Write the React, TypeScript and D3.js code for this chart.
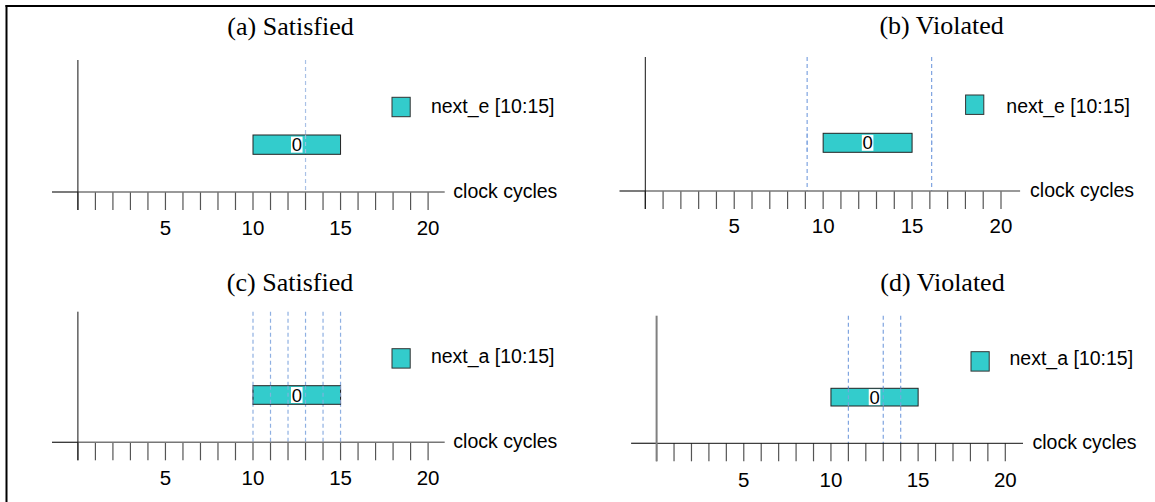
import React from "react";
import * as d3 from "d3";

const titles = ["(a) Satisfied", "(b) Violated", "(c) Satisfied", "(d) Violated"];
const legendLabels = ["next_e [10:15]", "next_e [10:15]", "next_a [10:15]", "next_a [10:15]"];
const barStarts = [10, 10, 10, 10];
const barEnds = [15, 15, 15, 15];
const barLabels = ["0", "0", "0", "0"];
const markers = [[13], [9.1, 16.1], [10, 11, 12, 13, 14, 15], [11, 13, 14]];
const tickValues = d3.range(0, 21);
const tickLabels = [5, 10, 15, 20];
const xDomain = [0, 20];

const layouts = [
  { x0: 77.9, x20: 428.1, axisY: 192, yTop: 60, axisStart: 52, axisEnd: 444.7, barY0: 135, barY1: 154.3, legX: 392, legY: 97.3, legTextX: 430.9, legBase: 113.3, titleX: 290.5, titleBase: 35, clockX: 453.3, clockBase: 198.3, tickBase: 235, yColor: "#111", yW: 1, xColor: "#777", xW: 1.6, dash: "#a9c1e6" },
  { x0: 645.3, x20: 1001, axisY: 191, yTop: 57, axisStart: 619.5, axisEnd: 1020.1, barY0: 133.3, barY1: 152.3, legX: 965.6, legY: 95, legTextX: 1006.3, legBase: 112.7, titleX: 941.6, titleBase: 34, clockX: 1030.1, clockBase: 196.7, tickBase: 233.3, yColor: "#111", yW: 1, xColor: "#777", xW: 1.6, dash: "#7fa4e0" },
  { x0: 77.9, x20: 428.1, axisY: 442.3, yTop: 311.7, axisStart: 52, axisEnd: 444.7, barY0: 385.7, barY1: 404.3, legX: 392, legY: 348.7, legTextX: 430.9, legBase: 363.3, titleX: 290, titleBase: 290.7, clockX: 453.3, clockBase: 448.3, tickBase: 485, yColor: "#111", yW: 1, xColor: "#777", xW: 1.6, dash: "#8fb0e2" },
  { x0: 656.6, x20: 1005.3, axisY: 443.3, yTop: 315.7, axisStart: 631.1, axisEnd: 1023, barY0: 388.3, barY1: 406, legX: 971, legY: 351.7, legTextX: 1009.5, legBase: 365, titleX: 942.5, titleBase: 291, clockX: 1032.5, clockBase: 449.3, tickBase: 486.7, yColor: "#808080", yW: 2, xColor: "#111", xW: 1, dash: "#7fa4e0" },
];

const TICK_LEN = 18;
const SANS = "Arial, 'Liberation Sans', sans-serif";
const SERIF = "'Times New Roman', 'Liberation Serif', serif";

function Panel({ i }: { i: number }) {
  const L = layouts[i];
  const x = d3.scaleLinear().domain(xDomain).range([L.x0, L.x20]);
  const barMid = (L.barY0 + L.barY1) / 2;
  const labelX = x((barStarts[i] + barEnds[i]) / 2);
  return (
    <g>
      <text x={L.titleX} y={L.titleBase} textAnchor="middle" fontFamily={SERIF} fontSize={26} fill="#000">
        {titles[i]}
      </text>
      {markers[i].map((m, k) => (
        <line key={"m" + k} x1={x(m)} x2={x(m)} y1={L.yTop} y2={L.axisY} stroke={L.dash} strokeWidth={1.2} strokeDasharray="4,3" />
      ))}
      <rect
        x={x(barStarts[i])}
        y={L.barY0}
        width={x(barEnds[i]) - x(barStarts[i])}
        height={L.barY1 - L.barY0}
        fill="#33CCCC"
        stroke="#222"
        strokeWidth={1}
      />
      {markers[i].map((m, k) => (
        <line key={"mo" + k} x1={x(m)} x2={x(m)} y1={L.barY0} y2={L.barY1} stroke={L.dash} strokeWidth={1.2} strokeDasharray="4,3" opacity={0.8} />
      ))}
      <rect x={labelX - 5.8} y={barMid - 8} width={11.6} height={16} fill="#fff" />
      <text x={labelX} y={barMid} dy="0.36em" textAnchor="middle" fontFamily={SANS} fontSize={18.5} fill="#000">
        {barLabels[i]}
      </text>
      {tickValues.map((t) => (
        <line key={"t" + t} x1={x(t)} x2={x(t)} y1={L.axisY} y2={L.axisY + TICK_LEN} stroke="#555" strokeWidth={1.2} />
      ))}
      <line x1={L.axisStart} x2={L.x0} y1={L.axisY} y2={L.axisY} stroke="#333" strokeWidth={1.3} />
      <line x1={L.x0} x2={L.axisEnd} y1={L.axisY} y2={L.axisY} stroke={L.xColor} strokeWidth={L.xW} />
      <line x1={L.x0} x2={L.x0} y1={L.yTop} y2={L.axisY + TICK_LEN} stroke={L.yColor} strokeWidth={L.yW} />
      {tickLabels.map((t) => (
        <text key={"l" + t} x={x(t)} y={L.tickBase} textAnchor="middle" fontFamily={SANS} fontSize={20.5} fill="#000">
          {t}
        </text>
      ))}
      <text x={L.clockX} y={L.clockBase} fontFamily={SANS} fontSize={19.5} fill="#000">
        clock cycles
      </text>
      <rect x={L.legX} y={L.legY} width={18.2} height={19.4} fill="#33CCCC" stroke="#333" strokeWidth={1} />
      <text x={L.legTextX} y={L.legBase} fontFamily={SANS} fontSize={19.5} fill="#000">
        {legendLabels[i]}
      </text>
    </g>
  );
}

export default function App() {
  return (
    <svg
      width={1155}
      height={502}
      style={{ position: "absolute", left: 0, top: 0, background: "#fff" }}
    >
      <rect x={0} y={0} width={1155} height={502} fill="#fff" />
      <line x1={6.5} x2={6.5} y1={5} y2={502} stroke="#000" strokeWidth={2} />
      <line x1={5.5} x2={1155} y1={6} y2={6} stroke="#000" strokeWidth={2} />
      {titles.map((_, i) => (
        <Panel key={i} i={i} />
      ))}
    </svg>
  );
}
